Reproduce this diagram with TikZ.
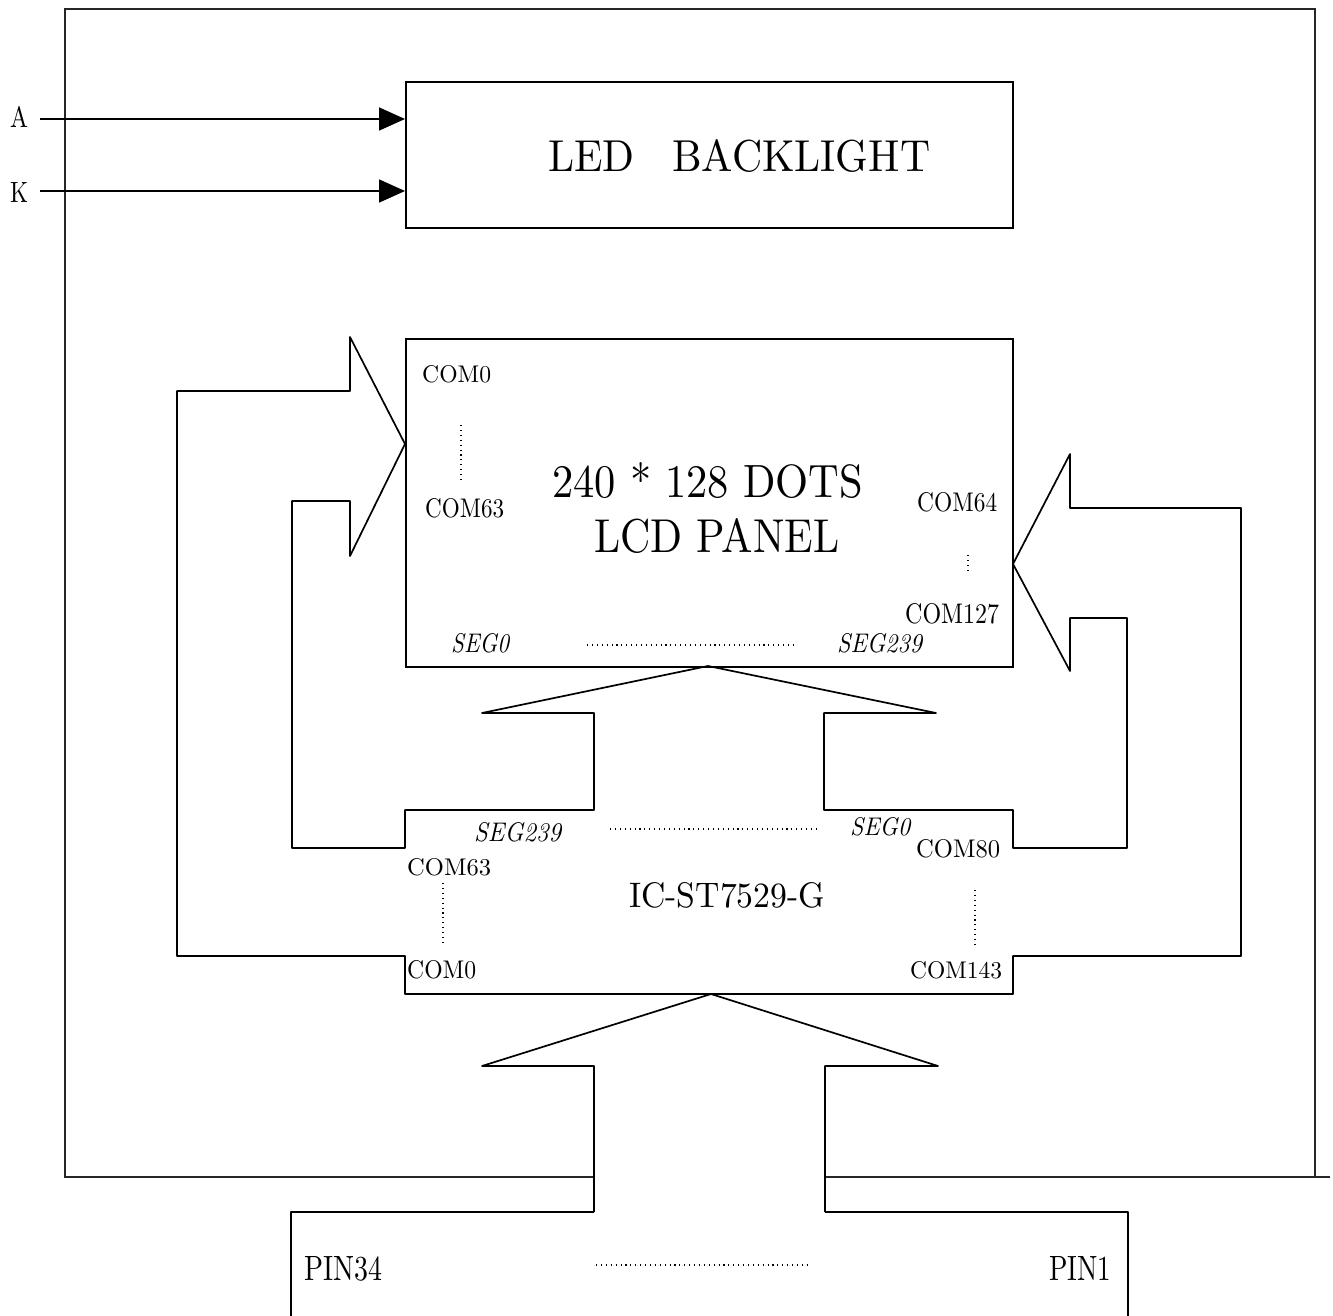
\documentclass[tikz,border=0pt]{standalone}
\usepackage{graphicx}
\usetikzlibrary{arrows.meta}
\newcommand{\fitt}[3]{\resizebox{#1pt}{#2pt}{#3}}
\begin{document}
\begin{tikzpicture}[x=1pt,y=-1pt,
  ln/.style={line width=1.7pt, black, line join=round},
  frame/.style={line width=2.3pt, black!85},
  boxnode/.style={draw, line width=1.7pt, anchor=north west, inner sep=0pt},
  lbl/.style={anchor=base west, inner sep=0pt},
  dots/.style={line width=1.1pt, dash pattern=on 1.1pt off 3.8pt},
  sig/.style={line width=1.7pt, -{Triangle[length=26pt,width=23pt]}}]
\useasboundingbox (0,0) rectangle (1333,1316);

% outer frame
\draw[frame] (594,1177) -- (65,1177) -- (65,9) -- (1315,9) -- (1315,1177);
\draw[frame] (825,1177) -- (1330,1177);

% LED backlight
\node[boxnode, minimum width=607pt, minimum height=146pt] (led) at (405,81) {};
\node[lbl] (ledtxt) at (548,172) {\fitt{382}{32}{LED\hspace{0.9em}BACKLIGHT}};

% A / K inputs
\node[lbl] (A) at (10,128) {\fitt{18}{21}{A}};
\node[lbl] (K) at (10,202) {\fitt{18}{20}{K}};
\coordinate (aS) at (40,119);
\coordinate (kS) at (40,191);
\draw[sig] (aS) -- (aS -| led.west);
\draw[sig] (kS) -- (kS -| led.west);

% LCD panel
\node[boxnode, minimum width=607pt, minimum height=328pt] (lcd) at (405,338) {};

% IC outline with the three arrows towards the LCD
\draw[ln] (405,956) -- (177,956) -- (177,391) -- (350,391) -- (350,337)
  -- (405,444) -- (350,556) -- (350,501) -- (292,501) -- (292,848)
  -- (405,848) -- (405,810) -- (594,810) -- (594,713) -- (482,713)
  -- (708,666) -- (936,713) -- (824,713) -- (824,810) -- (1013,810)
  -- (1013,848) -- (1127,848) -- (1127,618) -- (1070,618) -- (1070,671)
  -- (1013,564) -- (1070,454) -- (1070,508) -- (1241,508) -- (1241,956)
  -- (1013,956) -- (1013,994) -- (405,994) -- cycle;

% bottom arrow from the connector to the IC
\draw[ln] (594,1212) -- (594,1066) -- (482,1066) -- (711,994)
  -- (938,1066) -- (825,1066) -- (825,1212);

% connector box (open at the bottom)
\draw[ln] (291,1316) -- (291,1212) -- (594,1212);
\draw[ln] (825,1212) -- (1128,1212) -- (1128,1316);

% LCD labels
\node[lbl] (lcom0) at (422,382) {\fitt{69}{17}{COM0}};
\node[lbl] (lcom63) at (425,517) {\fitt{79}{19}{COM63}};
\node[lbl] (dots1) at (552,497) {\fitt{311}{35}{240 * 128 DOTS}};
\node[lbl] (panel) at (594,552) {\fitt{245}{34}{LCD PANEL}};
\node[lbl] (lcom64) at (917,511) {\fitt{80}{19}{COM64}};
\node[lbl] (lcom127) at (905,623) {\fitt{94}{20}{COM127}};
\node[lbl] (lseg0) at (451,652) {\fitt{58}{19}{\itshape SEG0}};
\node[lbl] (lseg239) at (837,652) {\fitt{85}{19}{\itshape SEG239}};
\draw[dots] (461,425) -- (461,480);
\draw[dots] (968,555) -- (968,571);
\draw[dots] (587,645) -- (797,645);

% IC labels
\node[lbl] (iseg239) at (474,841) {\fitt{87}{19}{\itshape SEG239}};
\node[lbl] (iseg0) at (850,835) {\fitt{60}{18}{\itshape SEG0}};
\node[lbl] (icom80) at (916,857) {\fitt{84}{18}{COM80}};
\node[lbl] (icom63) at (407,875) {\fitt{84}{17}{COM63}};
\node[lbl] (icname) at (629,907) {\fitt{196}{25}{IC-ST7529-G}};
\node[lbl] (icom0) at (407,978) {\fitt{69}{18}{COM0}};
\node[lbl] (icom143) at (910,978) {\fitt{92}{17}{COM143}};
\draw[dots] (610,829) -- (819,829);
\draw[dots] (443,883) -- (443,942);
\draw[dots] (975,890) -- (975,947);

% connector labels
\node[lbl] (pin34) at (304,1280) {\fitt{78}{24}{PIN34}};
\node[lbl] (pin1) at (1049,1280) {\fitt{62}{24}{PIN1}};
\draw[dots] (596,1265) -- (807,1265);
\end{tikzpicture}
\end{document}
